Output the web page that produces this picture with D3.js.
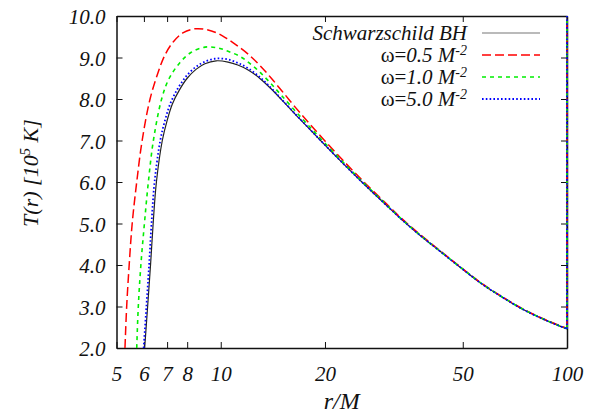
<!DOCTYPE html>
<html><head><meta charset="utf-8">
<script src="https://cdn.jsdelivr.net/npm/d3@7"></script>
<style>body{margin:0;background:#fff}</style></head>
<body><svg id="c" width="589" height="415"></svg>
<script>
// ---- data ----
const xTicks = [5, 6, 7, 8, 10, 20, 50, 100];
const yTicks = [2, 3, 4, 5, 6, 7, 8, 9, 10];

const schw = [[6.03,2.0],[6.15,3.0],[6.27,4.0],[6.38,5.0],[6.52,6.0],[6.78,7.0],[7.0,7.48],[7.25,7.88],[7.6,8.22],[8.0,8.5],[8.5,8.72],[9.0,8.85],[9.7,8.92],[10.5,8.89],[11.2,8.82],[12.0,8.7],[13.0,8.49],[14.0,8.24],[15.0,7.98],[16.5,7.61],[18.0,7.285],[20.0,6.89],[23.0,6.375],[26.0,5.94],[30.0,5.45],[33.0,5.125],[37.0,4.767],[43.0,4.33],[50.0,3.897],[57.0,3.533],[65.0,3.225],[75.0,2.92],[87.0,2.665],[100,2.46],[100,10.0]];

const w05 = [[5.29,2.0],[5.35,3.0],[5.44,4.0],[5.55,5.0],[5.72,6.0],[5.93,7.0],[6.25,8.0],[6.6,8.65],[6.9,9.06],[7.3,9.38],[7.8,9.6],[8.4,9.69],[9.0,9.68],[9.7,9.6],[10.4,9.46],[11.1,9.3],[12.0,9.08],[13.0,8.8],[14.0,8.5],[15.0,8.2],[16.5,7.78],[18.0,7.415],[20.0,6.99],[23.0,6.445],[26.0,5.99],[30.0,5.485],[33.0,5.15],[37.0,4.787],[43.0,4.345],[50.0,3.907],[57.0,3.543],[65.0,3.235],[75.0,2.93],[87.0,2.675],[100,2.47],[100,10.0]];

const w10 = [[5.72,2.0],[5.78,3.0],[5.88,4.0],[6.02,5.0],[6.18,6.0],[6.39,7.0],[6.75,8.0],[7.1,8.5],[7.63,8.88],[8.2,9.12],[9.0,9.25],[9.8,9.23],[10.5,9.15],[11.4,9.02],[12.2,8.84],[13.0,8.64],[14.0,8.36],[15.0,8.08],[16.5,7.69],[18.0,7.345],[20.0,6.935],[23.0,6.405],[26.0,5.96],[30.0,5.465],[33.0,5.135],[37.0,4.772],[43.0,4.335],[50.0,3.902],[57.0,3.538],[65.0,3.23],[75.0,2.925],[87.0,2.67],[100,2.465],[100,10.0]];

const w50 = [[5.99,2.0],[6.1,3.0],[6.21,4.0],[6.31,5.0],[6.44,6.0],[6.69,7.0],[6.91,7.5],[7.16,7.9],[7.5,8.24],[7.9,8.52],[8.4,8.75],[8.9,8.88],[9.6,8.97],[10.4,8.96],[11.2,8.87],[12.0,8.74],[13.0,8.52],[14.0,8.26],[15.0,7.99],[16.5,7.62],[18.0,7.29],[20.0,6.893],[23.0,6.377],[26.0,5.941],[30.0,5.451],[33.0,5.126],[37.0,4.767],[43.0,4.33],[50.0,3.897],[57.0,3.533],[65.0,3.225],[75.0,2.92],[87.0,2.665],[100,2.46],[100,10.0]];

const seriesNames = ["Schwarzschild BH", "ω=0.5 M", "ω=1.0 M", "ω=5.0 M"];
const seriesData = [schw, w05, w10, w50];
const seriesColors = ["#222222", "#ff0000", "#00ee00", "#0000ff"];
const seriesDash = [null, "9,4", "4,4", "1.6,2.2"];
const seriesWidth = [1.2, 1.5, 1.6, 1.8];

// ---- layout ----
const FONT = "Liberation Serif";
const svg = d3.select("#c");
const L = 116.5, R = 567, T = 16, B = 348;
const x = d3.scaleLog().domain([5, 100]).range([L, R]);
const y = d3.scaleLinear().domain([2, 10]).range([B, T]);

svg.append("defs").append("clipPath").attr("id","clip")
  .append("rect").attr("x", L).attr("y", T).attr("width", R - L + 1).attr("height", B - T);

// axes (ticks inward on all four sides)
const tl = 6;
const gB = svg.append("g").attr("transform", `translate(0,${B})`)
  .call(d3.axisBottom(x).tickValues(xTicks).tickSizeInner(-tl).tickSizeOuter(0).tickFormat(d3.format("d")));
const gT = svg.append("g").attr("transform", `translate(0,${T})`)
  .call(d3.axisTop(x).tickValues(xTicks).tickSizeInner(-tl).tickSizeOuter(0).tickFormat(""));
const gL = svg.append("g").attr("transform", `translate(${L},0)`)
  .call(d3.axisLeft(y).tickValues(yTicks).tickSizeInner(-tl).tickSizeOuter(0).tickFormat(d3.format(".1f")));
const gR = svg.append("g").attr("transform", `translate(${R},0)`)
  .call(d3.axisRight(y).tickValues(yTicks).tickSizeInner(-tl).tickSizeOuter(0).tickFormat(""));

[gB, gT, gL, gR].forEach(g => {
  g.attr("font-family", FONT);
  g.select(".domain").attr("stroke", "#111").attr("stroke-width", 1.5);
  g.selectAll(".tick line").attr("stroke", "#111").attr("stroke-width", 1);
  g.selectAll("text").attr("font-size", 21).attr("font-style", "italic")
    .attr("font-family", FONT).attr("fill", "#111");
});
gL.selectAll("text").attr("x", -11).attr("dy", "0.36em");
gB.selectAll("text").attr("y", 18).attr("dy", "0.71em");

// curves: smooth through the read points, then the vertical closing segment at r=100
const smooth = d3.line().x(d => x(d[0])).y(d => y(d[1])).curve(d3.curveCatmullRom.alpha(0.5));
const straight = d3.line().x(d => x(d[0])).y(d => y(d[1]));
const plotG = svg.append("g").attr("clip-path", "url(#clip)");
seriesData.forEach((data, i) => {
  const body = data.slice(0, -1), tail = data.slice(-2);
  [smooth(body), straight(tail)].forEach(dstr => {
    plotG.append("path").attr("d", dstr)
      .attr("fill", "none")
      .attr("stroke", seriesColors[i])
      .attr("stroke-width", seriesWidth[i])
      .attr("stroke-dasharray", seriesDash[i]);
  });
});

// axis titles
svg.append("text").attr("x", (L + R) / 2).attr("y", 409).attr("text-anchor", "middle")
  .attr("font-family", FONT).attr("font-size", 24).attr("font-style", "italic").attr("fill", "#111").text("r/M");

const yl = svg.append("text").attr("transform", "translate(38,173) rotate(-90)")
  .attr("text-anchor", "middle").attr("font-family", FONT).attr("font-size", 22)
  .attr("font-style", "italic").attr("fill", "#111");
yl.append("tspan").text("T(r) [10");
yl.append("tspan").attr("dy", -8).attr("font-size", 15).text("5");
yl.append("tspan").attr("dy", 8).text(" K]");

// legend
const lgX = 467, lgY0 = 33, lgDy = 22;
seriesNames.forEach((name, i) => {
  const yy = lgY0 + i * lgDy;
  const t = svg.append("text").attr("x", lgX).attr("y", yy + 7).attr("text-anchor", "end")
    .attr("font-family", FONT).attr("font-size", 21).attr("fill", "#111");
  if (i === 0) {
    t.attr("font-style", "italic").text(name);
  } else {
    t.append("tspan").text(name.slice(0, 2));
    t.append("tspan").attr("font-style", "italic").text(name.slice(2));
    t.append("tspan").attr("font-style", "italic").attr("font-size", 14).attr("dy", -7).text("-2");
  }
  svg.append("line").attr("x1", 482).attr("x2", 540).attr("y1", yy).attr("y2", yy)
    .attr("stroke", i === 0 ? "#777" : seriesColors[i])
    .attr("stroke-width", seriesWidth[i])
    .attr("stroke-dasharray", seriesDash[i]);
});
</script></body></html>
